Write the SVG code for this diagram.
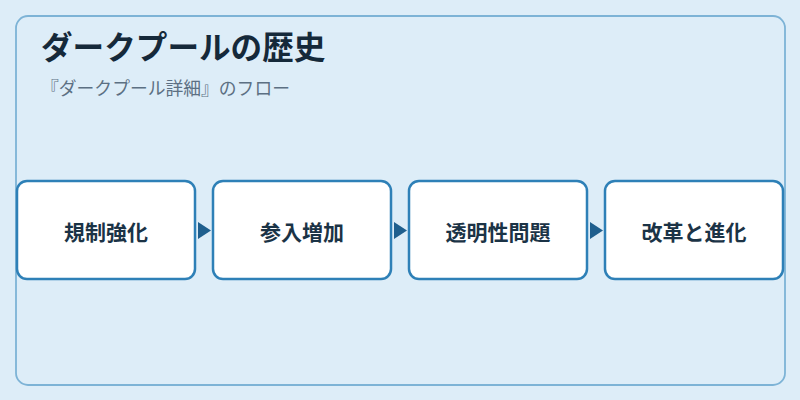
<svg xmlns="http://www.w3.org/2000/svg" width="800" height="400" viewBox="0 0 800 400">
<style>
.node rect{fill:#ffffff;stroke:#2e80b7;stroke-width:2.5}
.node text{font-family:"Noto Sans CJK JP","Noto Sans",sans-serif;font-size:21px;font-weight:bold;fill:#1b3346;text-anchor:middle}
.title{font-family:"Noto Sans CJK JP","Noto Sans",sans-serif;font-size:31.6px;font-weight:bold;fill:#15293a}
.sub{font-family:"Noto Sans CJK JP","Noto Sans",sans-serif;font-size:17.8px;fill:#5c7083}
.conn path{fill:#1f5f8e}
</style>
<rect x="0" y="0" width="800" height="400" fill="#ddedf8"/>
<rect x="16" y="16" width="769" height="369" rx="12" fill="#ddedf8" stroke="#7db3d6" stroke-width="1.8"/>
<text class="title" x="41" y="59">ダークプールの歴史</text>
<text class="sub" x="41" y="95">『ダークプール詳細』のフロー</text>
<g id="n1" class="node"><rect x="17" y="181" width="178" height="98" rx="10"/><text x="106" y="240">規制強化</text></g>
<g id="n2" class="node"><rect x="213" y="181" width="178" height="98" rx="10"/><text x="302" y="240">参入増加</text></g>
<g id="n3" class="node"><rect x="409" y="181" width="178" height="98" rx="10"/><text x="498" y="240">透明性問題</text></g>
<g id="n4" class="node"><rect x="605" y="181" width="178" height="98" rx="10"/><text x="694" y="240">改革と進化</text></g>
<g id="connectors" class="conn">
<path d="M198,222 L211,230.5 L198,239 Z"/>
<path d="M394,222 L407,230.5 L394,239 Z"/>
<path d="M590,222 L603,230.5 L590,239 Z"/>
</g>
</svg>
